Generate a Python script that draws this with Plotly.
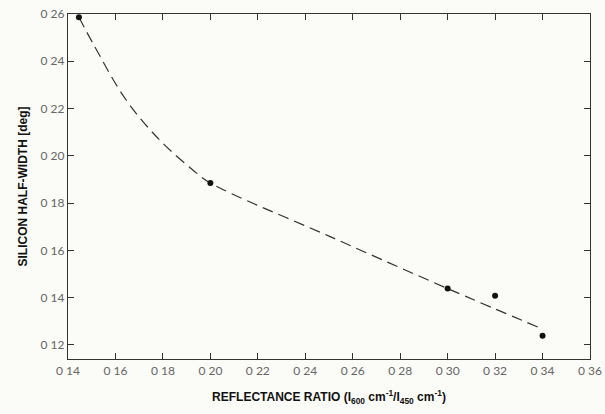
import plotly.graph_objects as go

# measured data points
ratio = [0.1446, 0.20, 0.30, 0.32, 0.34]
half_width = [0.2586, 0.1885, 0.1438, 0.1408, 0.1238]

# dashed fitted curve
curve_ratio = [0.1446, 0.1505, 0.1645, 0.1786, 0.1926, 0.20, 0.25, 0.30, 0.34]
curve_width = [0.2586, 0.2476, 0.2236, 0.2067, 0.1940, 0.1885, 0.1660, 0.1438, 0.1267]

x_ticks = [0.14, 0.16, 0.18, 0.20, 0.22, 0.24, 0.26, 0.28, 0.30, 0.32, 0.34, 0.36]
x_tick_labels = ["0 14", "0 16", "0 18", "0 20", "0 22", "0 24", "0 26", "0 28", "0 30", "0 32", "0 34", "0 36"]
y_ticks = [0.12, 0.14, 0.16, 0.18, 0.20, 0.22, 0.24, 0.26]
y_tick_labels = ["0 12", "0 14", "0 16", "0 18", "0 20", "0 22", "0 24", "0 26"]

fig = go.Figure()
fig.add_trace(go.Scatter(
    x=curve_ratio, y=curve_width, mode="lines", line_shape="spline",
    line=dict(color="#333333", width=1.2, dash="11px,6px"), hoverinfo="skip",
    showlegend=False))
fig.add_trace(go.Scatter(
    x=ratio, y=half_width, mode="markers",
    marker=dict(color="#111111", size=6), showlegend=False))

tick_font = dict(family="Lato, DejaVu Sans", size=12, color="#666666")
title_font = dict(family="Liberation Sans Narrow, Liberation Sans", size=12, color="#111111")

fig.update_xaxes(
    range=[0.14, 0.36], tickvals=x_ticks, ticktext=x_tick_labels,
    ticks="inside", ticklen=6, tickcolor="#333", mirror="ticks",
    showline=True, linecolor="#333", linewidth=1.2, showgrid=False, zeroline=False,
    tickfont=tick_font, automargin=False,
    title=dict(text="<b>REFLECTANCE RATIO (I<sub>600</sub> cm<sup>-1</sup>/I<sub>450</sub> cm<sup>-1</sup>)</b>",
               font=title_font, standoff=16))
fig.update_yaxes(
    range=[0.114, 0.26], tickvals=y_ticks, ticktext=y_tick_labels,
    ticks="inside", ticklen=6, tickcolor="#333", mirror="ticks",
    showline=True, linecolor="#333", linewidth=1.2, showgrid=False, zeroline=False,
    tickfont=tick_font, automargin=False,
    title=dict(text="<b>SILICON HALF-WIDTH [deg]</b>", font=title_font, standoff=10))

fig.update_layout(
    width=605, height=414,
    margin=dict(l=68, r=15, t=14, b=55),
    paper_bgcolor="#fbfbf7", plot_bgcolor="#fbfbf7")

fig.write_html("out.html", config={"displayModeBar": False},
               post_script="document.body.style.margin='0';document.body.style.overflow='hidden';document.body.style.background='#fbfbf7';")
